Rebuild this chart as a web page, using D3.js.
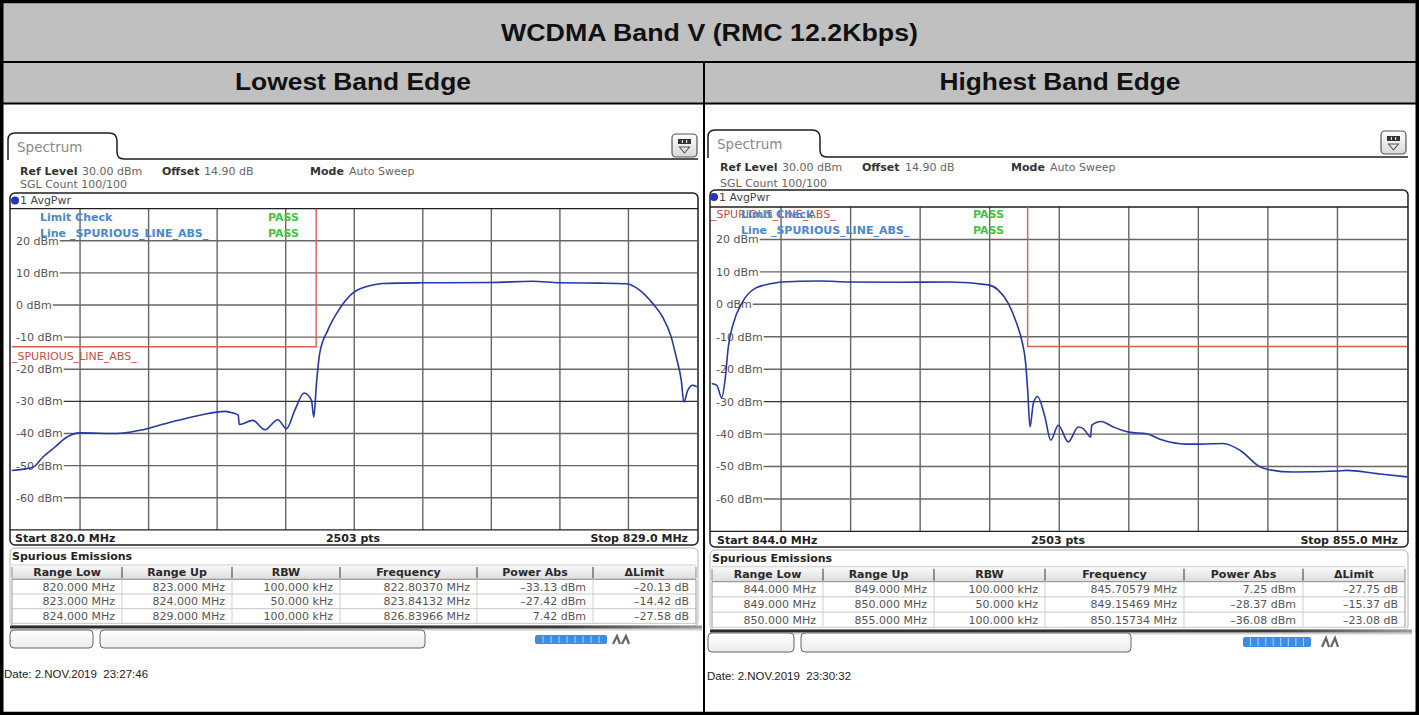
<!DOCTYPE html>
<html><head><meta charset="utf-8">
<script src="https://cdn.jsdelivr.net/npm/d3@7"></script>
<style>
html,body{margin:0;padding:0;background:#fff;}
svg{display:block;}
text{white-space:pre;}
</style></head><body>
<svg id="c" width="1419" height="715"></svg>
<script>
// ---------------- DATA ----------------
const chartTitle = "WCDMA Band V (RMC 12.2Kbps)";
const panelTitles = ["Lowest Band Edge", "Highest Band Edge"];
const yTickValues = [20, 10, 0, -10, -20, -30, -40, -50, -60];
const yDomain = [-70, 30];

const lowSpan = [820, 829];
const lowFreq  = [820.000,820.282,820.413,820.571,820.728,820.899,821.384,821.686,822.040,822.473,822.804,822.906,822.976,822.991,823.168,823.325,823.496,823.610,823.719,823.841,823.938,823.969,824.004,824.047,824.152,824.310,824.480,824.743,824.874,825.360,826.291,826.840,827.196,827.721,828.075,828.246,828.417,828.548,828.662,828.727,828.793,828.827,828.880,828.945,829.000];
const lowPower = [-51.5,-50.5,-47.3,-44.2,-41.1,-39.8,-40.0,-39.0,-36.8,-34.3,-33.1,-33.6,-34.3,-37.2,-35.9,-38.8,-35.7,-38.5,-32.8,-27.4,-29.7,-34.9,-24.4,-15.0,-7.9,-1.1,3.7,6.2,6.7,6.9,7.0,7.4,6.9,6.8,6.6,4.6,0.5,-3.7,-10.0,-16.2,-23.4,-30.2,-26.5,-25.0,-25.5];
const lowLimitFreq  = [820, 824, 824];
const lowLimitPower = [-13, -13, 30];

const highSpan = [844, 855];
const highFreq  = [844.000,844.082,844.161,844.214,844.266,844.345,844.478,844.688,844.952,845.099,845.700,846.190,846.981,847.772,848.378,848.536,848.694,848.827,848.906,848.969,849.001,849.037,849.090,849.155,849.273,849.365,849.485,849.643,849.801,849.880,849.997,850.013,850.160,850.355,850.603,850.883,851.093,851.516,851.699,852.095,852.359,852.675,852.802,853.202,853.898,854.047,854.521,855.000];
const highPower = [-24.4,-24.9,-28.8,-23.4,-13.1,-5.9,0.3,4.9,6.4,6.9,7.2,6.9,6.8,6.9,6.0,4.4,0.3,-5.9,-11.0,-18.2,-26.5,-37.8,-30.6,-28.4,-34.7,-41.9,-37.3,-42.4,-37.8,-38.3,-40.9,-37.3,-36.1,-37.8,-39.4,-39.9,-41.6,-43.1,-43.1,-42.9,-45.0,-50.1,-50.9,-51.7,-51.4,-51.2,-52.2,-53.2];
const highLimitFreq  = [849, 849, 855];
const highLimitPower = [30, -13, -13];

const tableHeaders = ["Range Low", "Range Up", "RBW", "Frequency", "Power Abs", "\u0394Limit"];
const lowRangeLow   = ["820.000 MHz", "823.000 MHz", "824.000 MHz"];
const lowRangeUp    = ["823.000 MHz", "824.000 MHz", "829.000 MHz"];
const lowRBW        = ["100.000 kHz", "50.000 kHz", "100.000 kHz"];
const lowPeakFreq   = ["822.80370 MHz", "823.84132 MHz", "826.83966 MHz"];
const lowPowerAbs   = ["\u201333.13 dBm", "\u201327.42 dBm", "7.42 dBm"];
const lowDelta      = ["\u201320.13 dB", "\u201314.42 dB", "\u201327.58 dB"];
const highRangeLow  = ["844.000 MHz", "849.000 MHz", "850.000 MHz"];
const highRangeUp   = ["849.000 MHz", "850.000 MHz", "855.000 MHz"];
const highRBW       = ["100.000 kHz", "50.000 kHz", "100.000 kHz"];
const highPeakFreq  = ["845.70579 MHz", "849.15469 MHz", "850.15734 MHz"];
const highPowerAbs  = ["7.25 dBm", "\u201328.37 dBm", "\u201336.08 dBm"];
const highDelta     = ["\u201327.75 dB", "\u201315.37 dB", "\u201323.08 dB"];

const infoTexts = ["Ref Level", "30.00 dBm", "Offset", "14.90 dB", "Mode", "Auto Sweep"];
const sglText = "SGL Count 100/100";
const limitName = "_SPURIOUS_LINE_ABS_";
const ptsText = "2503 pts";
const lowDate = "Date: 2.NOV.2019  23:27:46";
const highDate = "Date: 2.NOV.2019  23:30:32";

// ---------------- LAYOUT ----------------
const SCREEN_FONT = "'DejaVu Sans', Verdana, sans-serif";
const DOC_FONT = "'Liberation Sans', Arial, sans-serif";
const svg = d3.select("#c");
const defs = svg.append("defs");
function vgrad(id, a, b) {
  const gr = defs.append("linearGradient").attr("id", id).attr("x1", 0).attr("y1", 0).attr("x2", 0).attr("y2", 1);
  gr.append("stop").attr("offset", "0%").attr("stop-color", a);
  gr.append("stop").attr("offset", "100%").attr("stop-color", b);
}
vgrad("hdr", "#fbfbfb", "#dcdcdc");
vgrad("icon", "#ffffff", "#d8d8d8");
vgrad("box", "#ffffff", "#ececec");
vgrad("fade", "#8a8a8a", "#ffffff");
const hgr = defs.append("linearGradient").attr("id", "shadow").attr("x1", 0).attr("y1", 0).attr("x2", 1).attr("y2", 0);
hgr.append("stop").attr("offset", "0%").attr("stop-color", "#2a2a2a");
hgr.append("stop").attr("offset", "80%").attr("stop-color", "#3a3a3a");
hgr.append("stop").attr("offset", "100%").attr("stop-color", "#9a9a9a");

function txt(g, x, y, s, o = {}) {
  return g.append("text").attr("x", x).attr("y", y).attr("dy", "0.36em").text(s)
    .style("font-family", o.family || SCREEN_FONT)
    .attr("font-size", o.size || 11).attr("fill", o.fill || "#333")
    .attr("font-weight", o.bold ? "bold" : "normal")
    .attr("text-anchor", o.anchor || "start");
}

// outer table
svg.append("rect").attr("width", 1419).attr("height", 715).attr("fill", "#fff");
svg.append("rect").attr("x", 3).attr("y", 3).attr("width", 1413).attr("height", 59).attr("fill", "#c0c0c0");
svg.append("rect").attr("x", 3).attr("y", 63).attr("width", 1413).attr("height", 40).attr("fill", "#c0c0c0");
svg.append("line").attr("x1", 0).attr("x2", 1419).attr("y1", 62).attr("y2", 62).attr("stroke", "#000").attr("stroke-width", 2);
svg.append("line").attr("x1", 0).attr("x2", 1419).attr("y1", 103.5).attr("y2", 103.5).attr("stroke", "#000").attr("stroke-width", 2);
svg.append("line").attr("x1", 704).attr("x2", 704).attr("y1", 62).attr("y2", 715).attr("stroke", "#000").attr("stroke-width", 2);
svg.append("rect").attr("x", 1.75).attr("y", 1.5).attr("width", 1415.5).attr("height", 712).attr("fill", "none").attr("stroke", "#000").attr("stroke-width", 3.5);

svg.append("text").attr("x", 709.5).attr("y", 41).attr("text-anchor", "middle")
  .style("font-family", DOC_FONT).attr("font-weight", "bold").attr("font-size", 23)
  .attr("textLength", 417).attr("lengthAdjust", "spacingAndGlyphs").attr("fill", "#111").text(chartTitle);
[[353, 236], [1060, 241]].forEach((p, i) => {
  svg.append("text").attr("x", p[0]).attr("y", 90).attr("text-anchor", "middle")
    .style("font-family", DOC_FONT).attr("font-weight", "bold").attr("font-size", 23)
    .attr("textLength", p[1]).attr("lengthAdjust", "spacingAndGlyphs").attr("fill", "#111").text(panelTitles[i]);
});

const leftCfg = {
  span: lowSpan, freq: lowFreq, power: lowPower, limF: lowLimitFreq, limP: lowLimitPower,
  cols: [lowRangeLow, lowRangeUp, lowRBW, lowPeakFreq, lowPowerAbs, lowDelta], date: lowDate,
  tab: { x0: 8, x1: 117, y0: 133, y1: 159, end: 698 }, tabText: [17, 147], icon: [672, 134],
  info: { y1: 171.5, y2: 184.5, xs: [20, 82, 162, 204, 310, 349] },
  frame: { x0: 10, x1: 698, y0: 193, y1: 545 }, avg: [15, 200.5],
  plot: { x0: 11.5, x1: 697, y0: 208.6, y1: 529.9 }, yLabelX: 16,
  lim: { x: 40, y1: 217, y2: 233, passX: 268 }, limLabel: [12, 356],
  start: { y: 538, x: 15, mid: 353, stop: 688 },
  spur: { x: 12, y: 556, y0: 548, y1: 626 },
  table: { xs: [12, 122, 232, 340, 477, 593, 696], top: 565, hh: 14.3, rh: 14.7 },
  shadowY: 627, boxes: { y: 630, h: 18, b: [[10, 93], [100, 425]] },
  bar: { x: 535, y: 635, w: 72, h: 9 }, glyph: 613, dateXY: [4, 674]
};
const rightCfg = {
  span: highSpan, freq: highFreq, power: highPower, limF: highLimitFreq, limP: highLimitPower,
  cols: [highRangeLow, highRangeUp, highRBW, highPeakFreq, highPowerAbs, highDelta], date: highDate,
  tab: { x0: 708, x1: 820, y0: 130, y1: 157, end: 1408 }, tabText: [717, 144], icon: [1381, 131],
  info: { y1: 167, y2: 183, xs: [720, 782, 862, 905, 1011, 1050] },
  frame: { x0: 710, x1: 1408, y0: 190, y1: 547 }, avg: [714, 197],
  plot: { x0: 711.5, x1: 1407, y0: 207, y1: 531.4 }, yLabelX: 716,
  lim: { x: 741, y1: 214, y2: 230, passX: 973 }, limLabel: [711, 214],
  start: { y: 540, x: 717, mid: 1058, stop: 1398 },
  spur: { x: 712, y: 558, y0: 550, y1: 630 },
  table: { xs: [712, 823, 934, 1045, 1184, 1303, 1405], top: 566.7, hh: 15, rh: 15.2 },
  shadowY: 631, boxes: { y: 633, h: 19, b: [[708, 794], [801, 1131]] },
  bar: { x: 1243, y: 637, w: 68, h: 10 }, glyph: 1322, dateXY: [707, 676]
};

function drawPanel(c) {
  const g = svg.append("g");
  const t = c.tab;
  // tab
  g.append("path").attr("d",
    `M${t.x0},${t.y1 + 1} L${t.x0},${t.y0 + 7} Q${t.x0},${t.y0} ${t.x0 + 7},${t.y0} L${t.x1 - 8},${t.y0} Q${t.x1},${t.y0} ${t.x1},${t.y0 + 8} L${t.x1},${t.y1 - 7} Q${t.x1},${t.y1} ${t.x1 + 7},${t.y1} L${t.end},${t.y1}`)
    .attr("fill", "none").attr("stroke", "#1e1e1e").attr("stroke-width", 1.5);
  txt(g, c.tabText[0], c.tabText[1], "Spectrum", { size: 13.5, fill: "#8a8a8a" });
  // icon
  const [ix, iy] = c.icon;
  g.append("rect").attr("x", ix).attr("y", iy).attr("width", 25).attr("height", 23).attr("rx", 4)
    .attr("fill", "url(#icon)").attr("stroke", "#555").attr("stroke-width", 1.2);
  g.append("rect").attr("x", ix + 6).attr("y", iy + 5).attr("width", 13).attr("height", 5).attr("fill", "#333");
  [1, 2].forEach(k => g.append("line").attr("x1", ix + 6 + k * 13 / 3).attr("x2", ix + 6 + k * 13 / 3)
    .attr("y1", iy + 6).attr("y2", iy + 9).attr("stroke", "#fff").attr("stroke-width", 1));
  g.append("path").attr("d", `M${ix + 7.5},${iy + 13} L${ix + 17.5},${iy + 13} L${ix + 12.5},${iy + 19} Z`)
    .attr("fill", "none").attr("stroke", "#555").attr("stroke-width", 1.1);
  // info
  const xs = c.info.xs;
  infoTexts.forEach((s, i) => txt(g, xs[i], c.info.y1, s, { bold: i % 2 === 0, fill: i % 2 === 0 ? "#333" : "#666" }));
  txt(g, xs[0], c.info.y2, sglText, { fill: "#666" });

  // frame
  const f = c.frame, p = c.plot;
  g.append("rect").attr("x", f.x0).attr("y", f.y0).attr("width", f.x1 - f.x0).attr("height", f.y1 - f.y0)
    .attr("rx", 5).attr("fill", "#fff").attr("stroke", "#1e1e1e").attr("stroke-width", 1.5);
  g.append("circle").attr("cx", c.avg[0]).attr("cy", c.avg[1]).attr("r", 4).attr("fill", "#2433c0");
  txt(g, c.avg[0] + 5, c.avg[1], "1 AvgPwr", { fill: "#444" });

  const x = d3.scaleLinear().domain(c.span).range([p.x0, p.x1]);
  const y = d3.scaleLinear().domain(yDomain).range([p.y1, p.y0]);

  const grid = g.append("g");
  // y labels first (measure), then grid lines start where label ends
  const labelEnds = {};
  yTickValues.forEach(v => {
    const tt = txt(g, c.yLabelX, y(v), v + " dBm", { fill: "#555" });
    labelEnds[v] = c.yLabelX + tt.node().getComputedTextLength() + 1;
  });
  const nDiv = 10;
  d3.range(1, nDiv).forEach(i => {
    const fx = c.span[0] + (c.span[1] - c.span[0]) * i / nDiv;
    grid.append("line").attr("x1", x(fx)).attr("x2", x(fx)).attr("y1", p.y0).attr("y2", p.y1)
      .attr("stroke", "#666").attr("stroke-width", 1.4);
  });
  yTickValues.forEach(v => {
    grid.append("line").attr("x1", labelEnds[v]).attr("x2", p.x1).attr("y1", y(v)).attr("y2", y(v))
      .attr("stroke", v === -30 ? "#333" : "#666").attr("stroke-width", 1.4);
  });
  [30, -70].forEach(v => grid.append("line").attr("x1", f.x0).attr("x2", f.x1).attr("y1", y(v)).attr("y2", y(v))
    .attr("stroke", "#1e1e1e").attr("stroke-width", 1.4));

  // start/stop row
  txt(g, c.start.x, c.start.y, "Start " + c.span[0].toFixed(1) + " MHz", { bold: true, fill: "#222" });
  txt(g, c.start.mid, c.start.y, ptsText, { bold: true, fill: "#222", anchor: "middle" });
  txt(g, c.start.stop, c.start.y, "Stop " + c.span[1].toFixed(1) + " MHz", { bold: true, fill: "#222", anchor: "end" });

  // clip
  const cid = "clip" + c.span[0];
  defs.append("clipPath").attr("id", cid).append("rect").attr("x", p.x0).attr("y", p.y0)
    .attr("width", p.x1 - p.x0).attr("height", p.y1 - p.y0);
  const pg = g.append("g").attr("clip-path", `url(#${cid})`);

  // limit line
  const limData = c.limF.map((v, i) => ({ f: v, p: c.limP[i] }));
  pg.append("path").datum(limData)
    .attr("d", d3.line().x(d => x(d.f)).y(d => y(d.p)))
    .attr("fill", "none").attr("stroke", "#d8604e").attr("stroke-width", 1.4);
  txt(g, c.limLabel[0], c.limLabel[1], limitName, { fill: "#c4503f" });
  txt(g, c.lim.x, c.lim.y1, "Limit Check", { bold: true, fill: "#4a88d0" });
  txt(g, c.lim.x, c.lim.y2, "Line " + limitName, { bold: true, fill: "#4a88d0" });
  txt(g, c.lim.passX, c.lim.y1, "PASS", { bold: true, fill: "#3fc43f" });
  txt(g, c.lim.passX, c.lim.y2, "PASS", { bold: true, fill: "#3fc43f" });

  // trace
  const tr = c.freq.map((v, i) => ({ f: v, p: c.power[i] }));
  pg.append("path").datum(tr)
    .attr("d", d3.line().x(d => x(d.f)).y(d => y(d.p)).curve(d3.curveMonotoneX))
    .attr("fill", "none").attr("stroke", "#2638a6").attr("stroke-width", 1.6);

  // spurious section
  const s = c.spur, tb = c.table;
  g.append("rect").attr("x", f.x0).attr("y", s.y0).attr("width", f.x1 - f.x0).attr("height", s.y1 - s.y0)
    .attr("rx", 5).attr("fill", "#fff").attr("stroke", "#b5b5b5").attr("stroke-width", 1);
  txt(g, s.x, s.y, "Spurious Emissions", { bold: true, fill: "#222" });
  const tx = tb.xs, x0 = tx[0], x1 = tx[tx.length - 1];
  g.append("rect").attr("x", x0).attr("y", tb.top).attr("width", x1 - x0).attr("height", tb.hh).attr("fill", "url(#hdr)");
  const tBottom = tb.top + tb.hh + 3 * tb.rh;
  [0, 1, 2, 3].forEach(r => {
    const yy = tb.top + tb.hh + r * tb.rh;
    g.append("line").attr("x1", x0).attr("x2", x1).attr("y1", yy).attr("y2", yy)
      .attr("stroke", r === 0 ? "#888" : "#c8c8c8").attr("stroke-width", 1);
  });
  g.append("line").attr("x1", x0).attr("x2", x1).attr("y1", tb.top).attr("y2", tb.top).attr("stroke", "#cfcfcf");
  tx.forEach((xx, i) => {
    g.append("line").attr("x1", xx).attr("x2", xx).attr("y1", tb.top + 2).attr("y2", tb.top + tb.hh - 1)
      .attr("stroke", (i === 0 || i === tx.length - 1) ? "#999" : "#555").attr("stroke-width", 1.2);
    g.append("line").attr("x1", xx).attr("x2", xx).attr("y1", tb.top + tb.hh).attr("y2", tBottom)
      .attr("stroke", (i === 0 || i === tx.length - 1) ? "#999" : "#cfcfcf").attr("stroke-width", 1);
  });
  tableHeaders.forEach((h, i) => txt(g, (tx[i] + tx[i + 1]) / 2, tb.top + tb.hh / 2, h, { bold: true, fill: "#2a2a2a", anchor: "middle" }));
  c.cols.forEach((col, i) => col.forEach((v, r) =>
    txt(g, tx[i + 1] - 7, tb.top + tb.hh + (r + 0.5) * tb.rh, v, { fill: "#555", anchor: "end" })));

  // shadow bar
  g.append("rect").attr("x", f.x0).attr("y", c.shadowY - 1.5).attr("width", f.x1 - f.x0 + 4).attr("height", 3).attr("fill", "url(#shadow)");
  g.append("rect").attr("x", f.x0).attr("y", c.shadowY + 1.5).attr("width", f.x1 - f.x0 + 4).attr("height", 3).attr("fill", "url(#fade)").attr("opacity", 0.6);

  // bottom boxes
  c.boxes.b.forEach(b => g.append("rect").attr("x", b[0]).attr("y", c.boxes.y).attr("width", b[1] - b[0]).attr("height", c.boxes.h)
    .attr("rx", 4).attr("fill", "url(#box)").attr("stroke", "#666").attr("stroke-width", 1));
  const bb = c.bar;
  g.append("rect").attr("x", bb.x).attr("y", bb.y).attr("width", bb.w).attr("height", bb.h).attr("rx", 2).attr("fill", "#3a8ee6");
  d3.range(1, 9).forEach(k => g.append("line").attr("x1", bb.x + k * bb.w / 9).attr("x2", bb.x + k * bb.w / 9)
    .attr("y1", bb.y + 1).attr("y2", bb.y + bb.h - 1).attr("stroke", "#cfe4fb").attr("stroke-width", 0.8));
  g.append("path").attr("d", `M${c.glyph},${bb.y + bb.h} L${c.glyph + 4},${bb.y + 1} L${c.glyph + 7},${bb.y + bb.h} M${c.glyph + 9},${bb.y + bb.h} L${c.glyph + 13},${bb.y + 1} L${c.glyph + 16},${bb.y + bb.h}`)
    .attr("fill", "none").attr("stroke", "#666").attr("stroke-width", 2.2);

  // date
  txt(g, c.dateXY[0], c.dateXY[1], c.date, { size: 11.5, fill: "#222", family: DOC_FONT });
}

drawPanel(leftCfg);
drawPanel(rightCfg);
</script>
</body></html>
